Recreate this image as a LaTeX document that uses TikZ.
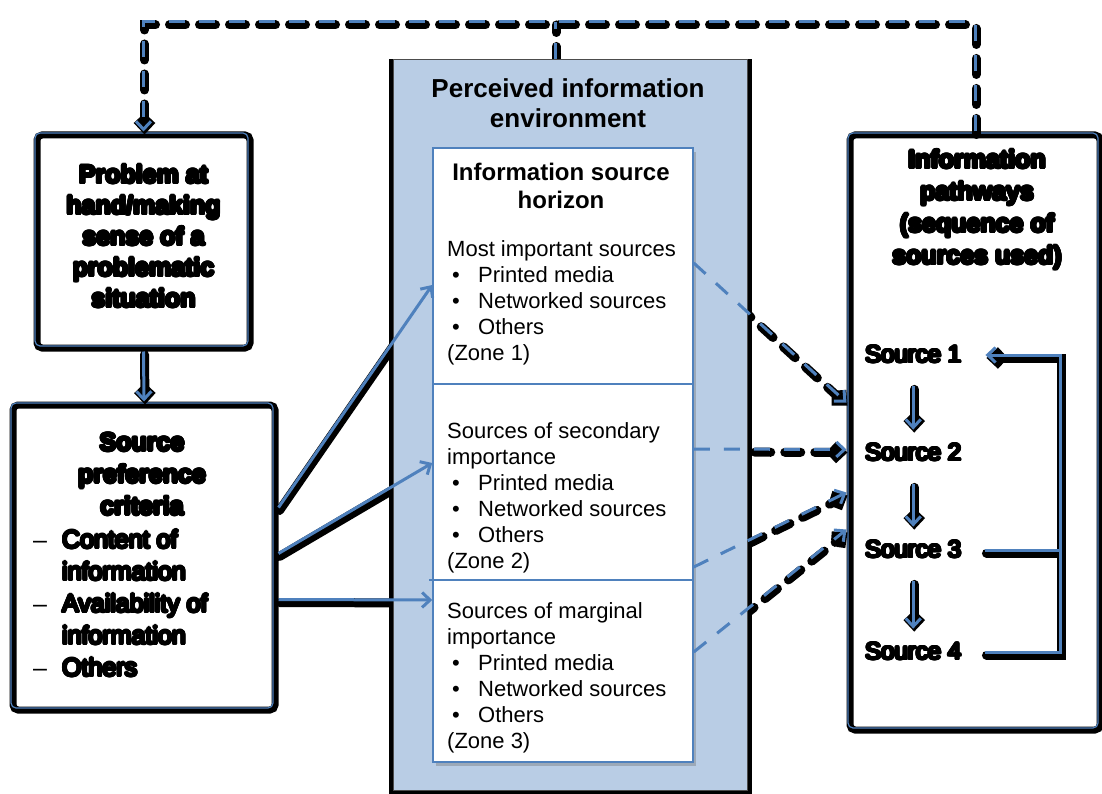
\documentclass[tikz,border=0pt]{standalone}
\usepackage{fontspec}
\setmainfont{Liberation Sans}
\usepackage[copies]{contour}
\contourlength{1.4pt}
\usetikzlibrary{arrows.meta,shadows}

\definecolor{lineblue}{HTML}{4F81BD}
\definecolor{envblue}{HTML}{B9CDE5}

\pgfdeclarelayer{back}
\pgfdeclarelayer{shade}
\pgfsetlayers{back,shade,main}

% heavy inked text in the outer boxes
\newcommand\inked[1]{\contour{black}{#1}}
\newcommand\srcitem[1]{\hspace*{5pt}\makebox[26pt][l]{\textbullet}#1}
\newcommand\critem[1]{\makebox[29pt][l]{--}\inked{#1}}

\tikzset{
  frame/.style={draw=black, line width=7pt, rounded corners=5pt, fill=white, inner sep=0pt,
    postaction={draw=lineblue, line width=1.2pt, sharp corners,
      transform canvas={shift={(-2pt,2pt)}}}},
  envbox/.style={fill=envblue, draw=black!70, line width=1pt, inner sep=0pt},
  horizonbox/.style={fill=white, draw=lineblue, line width=1.5pt, inner sep=0pt,
    drop shadow={shadow xshift=3pt, shadow yshift=-4pt, opacity=0.35, fill=black!60}},
  heading/.style={font=\fontsize{25}{31}\selectfont\bfseries, align=center, inner sep=0pt},
  subheading/.style={font=\fontsize{24}{28}\selectfont\bfseries, align=center, inner sep=0pt},
  zone/.style={font=\fontsize{22}{26}\selectfont, align=left, inner sep=0pt},
  srcname/.style={font=\fontsize{24}{28}\selectfont, inner sep=0pt},
  link/.style={draw=lineblue, line width=3pt},
  dashlink/.style={dash pattern=on 16pt off 14pt},
  seqarrow/.style={shorten <=22pt, shorten >=14pt},
}

% every connector; run once as black shade, once in blue
\newcommand\drawlinks{%
  \draw[link,dashlink,->] (paths.north) |- (top) -| (prob.north);
  \draw[link,dashlink] (env.north -| top) -- (top);
  \draw[link,->] (prob.south) -- (crit.north);
  \draw[link,->] ([yshift=50pt]crit.east) -- ([yshift=170pt]horizon.west);
  \draw[link,->] ([yshift=4pt]crit.east) -- ([yshift=-8pt]horizon.west);
  \draw[link,->] ([yshift=-42pt]crit.east) -- ([yshift=-145pt]horizon.west);
  \draw[link,dashlink,->] ([yshift=192pt]horizon.east) -- ([yshift=30pt]paths.west);
  \draw[link,dashlink,->] ([yshift=6pt]horizon.east) -- ([yshift=-17pt]paths.west);
  \draw[link,dashlink,->] ([yshift=-112pt]horizon.east) -- ([yshift=-60pt]paths.west);
  \draw[link,dashlink,->] ([yshift=-197pt]horizon.east) -- ([yshift=-97pt]paths.west);
  \draw[link,seqarrow,->] (s1.south) -- (s2.north);
  \draw[link,seqarrow,->] (s2.south) -- (s3.north);
  \draw[link,seqarrow,->] (s3.south) -- (s4.north);
  \draw[link,->] ([xshift=24pt]s4.east) -| (rail |- s1.east) -- ([xshift=24pt]s1.east);
  \draw[link] ([xshift=24pt]s3.east) -- (rail |- s3.east);
}

\begin{document}
\begin{tikzpicture}[x=1pt, y=-1pt, >={Straight Barb[length=8pt,width=15pt]}]
  \useasboundingbox (0,0) rectangle (1102,794);

  % boxes
  \begin{pgfonlayer}{back}
    \node[frame, minimum width=213pt, minimum height=213pt] (prob) at (143.5,241.5) {};
    \node[frame, minimum width=262pt, minimum height=305pt] (crit) at (144,557.5) {};
    \node[frame, minimum width=250pt, minimum height=595pt] (paths) at (975,432.5) {};
  \end{pgfonlayer}
  \node[envbox, minimum width=354pt, minimum height=730pt] (env) at (570,425) {};
  \node[horizonbox, minimum width=260pt, minimum height=614pt] (horizon) at (563,455) {};

  \begin{pgfonlayer}{shade}
    \draw[black, line width=8pt] (env.north west) -- (env.south west)
      -- (env.south east) -- (env.north east);
  \end{pgfonlayer}

  \coordinate (cut1) at (0,384);
  \coordinate (cut2) at (0,580);
  \draw[lineblue, line width=2.5pt] (horizon.west |- cut1) -- (horizon.east |- cut1);
  \draw[lineblue, line width=2.5pt] ([xshift=-3pt]horizon.west |- cut2) -- (horizon.east |- cut2);

  % texts
  \node[heading] (probtext) at (143.5,237) {\inked{Problem at}\\\inked{hand/making}\\
    \inked{sense of a}\\\inked{problematic}\\\inked{situation}};
  \node[heading, font=\fontsize{25}{32}\selectfont\bfseries] (crittitle) at (142,475)
    {\inked{Source}\\\inked{preference}\\\inked{criteria}};
  \node[zone, font=\fontsize{25}{32}\selectfont, anchor=north west] (critlist) at (33,530)
    {\critem{Content of}\\\hspace*{29pt}\inked{information}\\\critem{Availability of}\\
     \hspace*{29pt}\inked{information}\\\critem{Others}};
  \node[heading, font=\fontsize{25}{32}\selectfont\bfseries] (pathtitle) at (977,210.5)
    {\inked{Information}\\\inked{pathways}\\\inked{(sequence of}\\\inked{sources used)}};

  \node[heading, font=\fontsize{26}{30}\selectfont\bfseries] (envtitle) at (568,103)
    {Perceived information\\environment};
  \node[subheading] (hortitle) at (561,186) {Information source\\horizon};

  \node[zone, anchor=north west] (zone1) at (447,240) {Most important sources\\
    \srcitem{Printed media}\\\srcitem{Networked sources}\\\srcitem{Others}\\(Zone 1)};
  \node[zone, anchor=north west] (zone2) at (447,422) {Sources of secondary\\importance\\
    \srcitem{Printed media}\\\srcitem{Networked sources}\\\srcitem{Others}\\(Zone 2)};
  \node[zone, anchor=north west] (zone3) at (447,602) {Sources of marginal\\importance\\
    \srcitem{Printed media}\\\srcitem{Networked sources}\\\srcitem{Others}\\(Zone 3)};

  \node[srcname, anchor=west] (s1) at (865,355) {\inked{Source 1}};
  \node[srcname, anchor=west] (s2) at (865,453) {\inked{Source 2}};
  \node[srcname, anchor=west] (s3) at (865,550) {\inked{Source 3}};
  \node[srcname, anchor=west] (s4) at (865,652) {\inked{Source 4}};

  \coordinate (top) at (555,22);
  \coordinate (rail) at (1060,0);

  % connectors
  \begin{pgfonlayer}{shade}
    \begin{scope}[link/.style={draw=black, line width=9pt, line cap=round,
        transform canvas={shift={(1pt,-3pt)}}}]
      \drawlinks
    \end{scope}
  \end{pgfonlayer}
  \drawlinks

\end{tikzpicture}
\end{document}
